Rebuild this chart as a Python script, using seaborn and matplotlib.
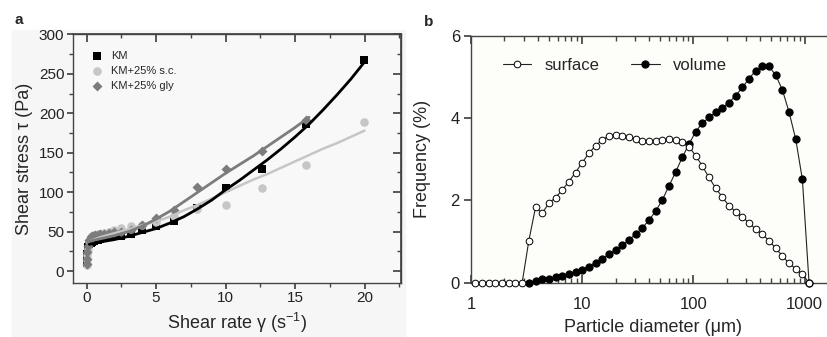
import matplotlib
matplotlib.use("Agg")
import matplotlib.pyplot as plt
import seaborn as sns
from matplotlib.ticker import MultipleLocator, LogLocator, NullFormatter
from matplotlib.patches import Rectangle

# ---- panel a: flow curves ----
shear = [0.01, 0.02, 0.05, 0.1, 0.2, 0.3, 0.4, 0.5, 0.63, 0.79, 1.0, 1.26,
         1.58, 2.0, 2.51, 3.16, 3.98, 5.01, 6.31, 7.94, 10.0, 12.6, 15.8, 19.95]
km = [10, 15, 22, 30, 34, 36, 37, 38, 39, 40, 41, 42,
      43, 44, 45, 47, 52, 57, 63, 80, 105, 129, 186, 267]
sc = [8, 14, 20, 28, 38, 43, 45, 46, 46, 47, 47, 48,
      50, 52, 55, 57, 58, 62, 70, 79, 84, 105, 134, 189]
gly = [9, 16, 24, 32, 40, 43, 44, 45, 46, 46, 47, 47,
       48, 49, 50, 52, 59, 67, 78, 106, 130, 152, 192]

# fitted curves
fit_x = [0.2, 1, 2, 3, 4, 5, 6, 7, 8, 9, 10, 11, 12, 13, 14, 15, 16, 17, 18, 19, 20]
km_fit = [34, 37, 40, 44, 49, 54, 61, 69, 79, 90, 103, 115, 128, 141, 155, 170,
          186, 204, 223, 243, 265]
sc_fit = [38, 43, 48, 53, 58, 63, 69, 77, 84, 92, 100, 108, 116, 123, 131, 139,
          147, 155, 162, 170, 178]
gly_fit_x = [0.2, 1, 2, 3, 4, 5, 6, 7, 8, 9, 10, 11, 12, 13, 14, 15, 16]
gly_fit = [38, 41, 45, 50, 57, 66, 76, 88, 100, 112, 124, 135, 146, 158, 170, 182, 195]

# ---- panel b: particle size distribution ----
diam = [1.096, 1.259, 1.445, 1.660, 1.905, 2.188, 2.512, 2.884, 3.311, 3.802,
        4.365, 5.012, 5.754, 6.607, 7.586, 8.710, 10.00, 11.48, 13.18, 15.14,
        17.38, 19.95, 22.91, 26.30, 30.20, 34.67, 39.81, 45.71, 52.48, 60.26,
        69.18, 79.43, 91.20, 104.7, 120.2, 138.0, 158.5, 182.0, 208.9, 239.9,
        275.4, 316.2, 363.1, 416.9, 478.6, 549.5, 631.0, 724.4, 831.8, 955.0, 1096]
surface = [0, 0, 0, 0, 0, 0, 0, 0,
           1.02, 1.83, 1.69, 1.93, 2.07, 2.25, 2.46, 2.68, 2.92, 3.15, 3.33, 3.47,
           3.57, 3.59, 3.58, 3.55, 3.49, 3.45, 3.44, 3.45, 3.47, 3.49, 3.47, 3.41,
           3.31, 3.09, 2.84, 2.56, 2.30, 2.08, 1.87, 1.73, 1.59, 1.46, 1.30, 1.18,
           1.02, 0.84, 0.65, 0.47, 0.34, 0.20, 0.0]
vol_diam = diam[8:]
volume = [0.0, 0.04, 0.08, 0.10, 0.13, 0.16, 0.21, 0.26, 0.32, 0.39, 0.49, 0.58,
          0.69, 0.79, 0.91, 1.04, 1.18, 1.33, 1.52, 1.74, 2.01, 2.35, 2.69, 3.05,
          3.37, 3.67, 3.88, 4.02, 4.14, 4.25, 4.38, 4.55, 4.75, 4.96, 5.16, 5.27,
          5.26, 5.05, 4.69, 4.15, 3.49, 2.51, 0.0]

sns.set_theme(style="ticks")
plt.rcParams['font.family'] = ['Liberation Sans', 'DejaVu Sans']
plt.rcParams['mathtext.default'] = 'regular'

W, H = 828, 337
fig = plt.figure(figsize=(W / 100, H / 100), dpi=100)
fig.patches.append(Rectangle((12 / W, 0), (405 - 12) / W, 1 - 30 / H,
                             transform=fig.transFigure, color='#f6f6f6', zorder=-10))

spine_c = '#444444'

# panel a
ax1 = fig.add_axes([72.7 / W, 1 - 283 / H, (400.7 - 72.7) / W, (283 - 34.3) / H])
ax1.set_facecolor('#f8f8f8')
sns.scatterplot(x=shear, y=km, marker='s', color='black', s=28, linewidth=0,
                label='KM', ax=ax1, zorder=3)
sns.scatterplot(x=shear, y=sc, marker='o', color='#c6c6c6', s=38, linewidth=0,
                label='KM+25% s.c.', ax=ax1, zorder=3)
sns.scatterplot(x=shear[:-1], y=gly, marker='D', color='#7c7c7c', s=26, linewidth=0,
                label='KM+25% gly', ax=ax1, zorder=3)
sns.lineplot(x=fit_x, y=sc_fit, color='#c6c6c6', lw=1.8, ax=ax1, zorder=4)
sns.lineplot(x=gly_fit_x, y=gly_fit, color='#7c7c7c', lw=2, ax=ax1, zorder=4)
sns.lineplot(x=fit_x, y=km_fit, color='black', lw=2, ax=ax1, zorder=5)

ax1.set_xlim(-1, 22.6)
ax1.set_ylim(-15, 300)
ax1.set_xticks([0, 5, 10, 15, 20])
ax1.set_yticks([0, 50, 100, 150, 200, 250, 300])
ax1.xaxis.set_minor_locator(MultipleLocator(2.5))
ax1.yaxis.set_minor_locator(MultipleLocator(25))
ax1.tick_params(which='both', direction='out', colors=spine_c, labelcolor='#222222',
                labelsize=11, top=False, right=False)
ax1.tick_params(which='major', length=4, pad=2)
ax1.tick_params(which='minor', length=3)
for sp in ax1.spines.values():
    sp.set_visible(True)
    sp.set_color(spine_c)
    sp.set_linewidth(1)
secx = ax1.secondary_xaxis('top')
secx.set_xticks([0, 5, 10, 15, 20])
secx.xaxis.set_minor_locator(MultipleLocator(2.5))
secx.tick_params(which='both', direction='in', labeltop=False, colors=spine_c)
secx.tick_params(which='minor', length=3)
secy = ax1.secondary_yaxis('right')
secy.set_yticks([0, 50, 100, 150, 200, 250, 300])
secy.yaxis.set_minor_locator(MultipleLocator(25))
secy.tick_params(which='both', direction='in', labelright=False, colors=spine_c)
secy.tick_params(which='minor', length=3)
for s in (secx, secy):
    for sp in s.spines.values():
        sp.set_color(spine_c)

ax1.set_xlabel('Shear rate γ (s$^{-1}$)', fontsize=13, labelpad=4)
ax1.set_ylabel('Shear stress τ (Pa)', fontsize=13, labelpad=4)
ax1.legend(loc='upper left', bbox_to_anchor=(0.04, 0.955), frameon=False, fontsize=8,
           handlelength=1.0, handletextpad=0.8, labelspacing=0.45, borderpad=0)

# panel b
ax2 = fig.add_axes([471 / W, 1 - 282.7 / H, (836 - 471) / W, (282.7 - 36) / H])
ax2.set_facecolor('#fdfdf9')
sns.lineplot(x=vol_diam, y=volume, marker='o', color='#222222', lw=0.8,
             markersize=5.2, markerfacecolor='black', markeredgecolor='black',
             label='volume', ax=ax2, clip_on=False, zorder=3)
sns.lineplot(x=diam, y=surface, marker='o', color='#222222', lw=0.8,
             markersize=4.8, markerfacecolor='white', markeredgecolor='black',
             markeredgewidth=0.7, label='surface', ax=ax2, clip_on=False, zorder=4)
ax2.set_xscale('log')
ax2.set_xlim(1, 1915)
ax2.set_ylim(0, 6)
ax2.set_xticks([1, 10, 100, 1000])
ax2.set_xticklabels(['1', '10', '100', '1000'])
ax2.xaxis.set_minor_locator(LogLocator(base=10, subs=range(2, 10)))
ax2.xaxis.set_minor_formatter(NullFormatter())
ax2.set_yticks([0, 2, 4, 6])
ax2.tick_params(axis='x', which='both', direction='in', top=True, bottom=True,
                colors=spine_c, labelcolor='#222222', labelsize=12, pad=10)
ax2.tick_params(axis='x', which='major', length=6)
ax2.tick_params(axis='x', which='minor', length=3.5)
ax2.tick_params(axis='y', direction='out', length=5, colors=spine_c,
                labelcolor='#222222', labelsize=12, pad=3)
for sp in ax2.spines.values():
    sp.set_visible(True)
    sp.set_color(spine_c)
    sp.set_linewidth(1)
ax2.set_xlabel('Particle diameter (μm)', fontsize=13, labelpad=5)
ax2.set_ylabel('Frequency (%)', fontsize=13, labelpad=14)
h, l = ax2.get_legend_handles_labels()
ax2.legend([h[1], h[0]], [l[1], l[0]], loc='upper left', bbox_to_anchor=(0.065, 0.945),
           ncol=2, frameon=False, fontsize=12, handlelength=1.7, handletextpad=0.8,
           columnspacing=1.9, borderpad=0)

fig.text(19 / W, 1 - 20 / H, 'a', fontsize=11, fontweight='bold', ha='center', va='center')
fig.text(429 / W, 1 - 22 / H, 'b', fontsize=11, fontweight='bold', ha='center', va='center')

fig.savefig('out.png', dpi=100)
